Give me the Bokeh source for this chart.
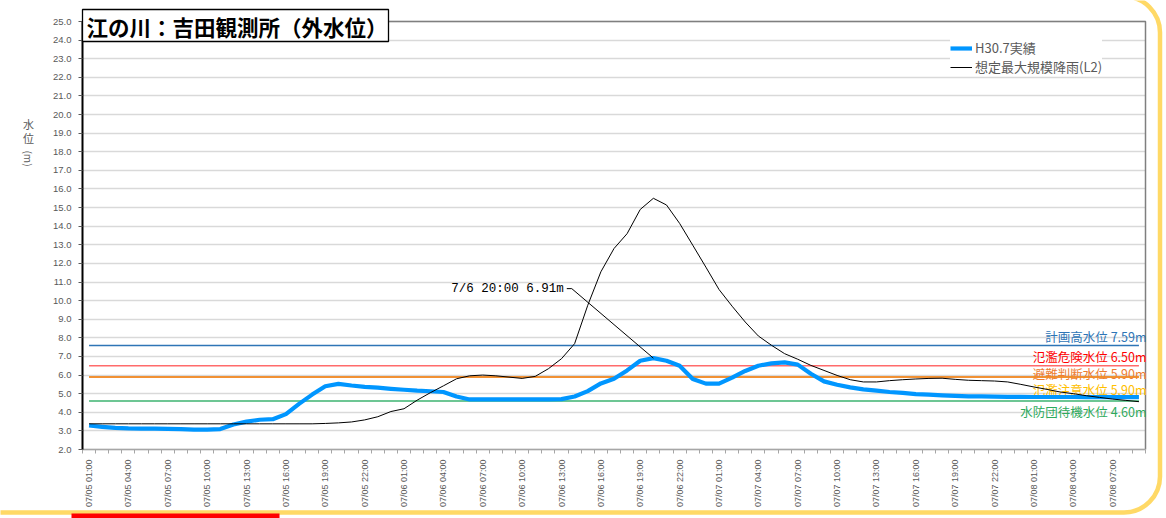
import math
import numpy as np
import pandas as pd
from bokeh.plotting import figure
from bokeh.models import (Range1d, FixedTicker, PrintfTickFormatter, Label, Legend,
                          LegendItem, BoxAnnotation, ColumnDataSource, Grid)
from bokeh.core.properties import value
from bokeh.embed import file_html
from bokeh.resources import INLINE

# ---------------- data ----------------
times = pd.date_range("2018-07-05 01:00", periods=81, freq="h")
time_labels = [t.strftime("%m/%d %H:%M") for t in times]
hours = list(range(len(times)))

h30_actual = [
    3.29, 3.22, 3.16, 3.13, 3.12, 3.12, 3.11, 3.09, 3.07, 3.07,
    3.10, 3.34, 3.50, 3.60, 3.63, 3.90, 4.45, 4.95, 5.40, 5.53,
    5.44, 5.37, 5.32, 5.26, 5.21, 5.16, 5.13, 5.09, 4.85, 4.69,
    4.69, 4.69, 4.69, 4.69, 4.69, 4.69, 4.71, 4.85, 5.14, 5.55,
    5.80, 6.25, 6.77, 6.91, 6.77, 6.50, 5.79, 5.54, 5.54, 5.86,
    6.22, 6.50, 6.63, 6.68, 6.56, 6.07, 5.66, 5.48, 5.34, 5.23,
    5.16, 5.09, 5.04, 4.98, 4.95, 4.91, 4.88, 4.86, 4.85, 4.84,
    4.83, 4.83, 4.82, 4.82, 4.82, 4.82, 4.81, 4.81, 4.81, 4.81,
    4.81,
]

l2_max = [
    3.38, 3.38, 3.38, 3.38, 3.38, 3.38, 3.38, 3.38, 3.38, 3.38,
    3.38, 3.38, 3.38, 3.38, 3.38, 3.38, 3.38, 3.38, 3.40, 3.43,
    3.48, 3.59, 3.76, 4.04, 4.19, 4.65, 5.05, 5.42, 5.80, 5.96,
    6.00, 5.96, 5.89, 5.82, 5.93, 6.34, 6.88, 7.69, 9.75, 11.55,
    12.80, 13.60, 14.90, 15.50, 15.14, 14.15, 12.98, 11.80, 10.60, 9.70,
    8.85, 8.10, 7.60, 7.15, 6.85, 6.52, 6.25, 5.98, 5.75, 5.63,
    5.63, 5.70, 5.75, 5.79, 5.82, 5.83, 5.77, 5.72, 5.70, 5.68,
    5.63, 5.50, 5.36, 5.23, 5.09, 5.00, 4.89, 4.80, 4.71, 4.64,
    4.57,
]

level_names = ["計画高水位", "氾濫危険水位", "避難判断水位", "氾濫注意水位", "水防団待機水位"]
level_values = [7.59, 6.50, 5.90, 5.90, 4.60]

y_ticks = list(range(2, 26))
x_tick_step = 3

# ---------------- styles / layout ----------------
level_line_colors = ["#2E75B6", "#FF6B6B", "#ED7D31", "#FFC000", "#3CB371"]
level_text_colors = ["#2E75B6", "#FF0000", "#ED7D31", "#FFC000", "#2EAA5C"]
level_text_dy = [-9, -9, -3, 13, 10]          # px, positive = down
draw_order = [0, 1, 3, 2, 4]                  # yellow under orange

JP = "Noto Sans CJK JP"
GRAY = "#595959"

W, H = 1166, 518
PL, PR, PT, PB = 82, 1145, 21, 449          # plot-area box in canvas pixels

x0, x1 = hours[0] - 0.5, hours[-1] + 0.5
y0, y1 = y_ticks[0], y_ticks[-1]
px_h = (PR - PL) / (x1 - x0)
px_m = (PB - PT) / (y1 - y0)


def X(px):  # canvas px -> data x
    return x0 + (px - PL) / px_h


def Y(py):  # canvas px -> data y
    return y0 + (PB - py) / px_m


p = figure(width=W, height=H, x_range=Range1d(X(0), X(W)), y_range=Range1d(Y(H), Y(0)),
           output_backend="svg", toolbar_location=None,
           min_border_left=0, min_border_right=0, min_border_top=0, min_border_bottom=0)
p.title.visible = False
p.background_fill_color = "white"
p.border_fill_color = "white"
p.outline_line_color = None

# grid (horizontal lines only across the plot area)
p.xgrid.visible = False
p.ygrid.visible = False
if "cross_bounds" in Grid.properties():
    g = Grid(dimension=1, ticker=FixedTicker(ticks=y_ticks), bounds=(y0, y1), cross_bounds=(x0, x1),
             grid_line_color="#D9D9D9", grid_line_width=1.5)
    p.add_layout(g)
else:
    p.segment(x0=[x0] * len(y_ticks), x1=[x1] * len(y_ticks), y0=y_ticks, y1=y_ticks,
              line_color="#D9D9D9", line_width=1.5, level="underlay")

# plot-area border (top/right)
p.line([x0, x1, x1], [y1, y1, y0], line_color="#7F7F7F", line_width=1.5)

# y axis
ya = p.yaxis[0]
ya.fixed_location = x0
ya.bounds = (y0, y1)
ya.ticker = FixedTicker(ticks=y_ticks)
ya.formatter = PrintfTickFormatter(format="%.1f")
ya.axis_line_color = "black"
ya.axis_line_width = 2
ya.major_tick_out = 4
ya.major_tick_in = 0
ya.major_tick_line_color = GRAY
ya.minor_tick_line_color = None
ya.major_label_standoff = 7
ya.major_label_text_font = "Liberation Sans"
ya.major_label_text_font_size = "9.5px"
ya.major_label_text_color = GRAY

# x axis
xa = p.xaxis[0]
xa.fixed_location = y0
xa.bounds = (x0, x1)
major = hours[::x_tick_step]
xa.ticker = FixedTicker(ticks=major, minor_ticks=[h - 0.5 for h in hours] + [hours[-1] + 0.5])
xa.major_label_overrides = {h: time_labels[h] for h in major}
xa.major_label_orientation = math.pi / 2
xa.major_tick_out = 0
xa.major_tick_in = 0
xa.minor_tick_out = 4
xa.minor_tick_in = 0
xa.minor_tick_line_color = "#A6A6A6"
xa.axis_line_color = "#A6A6A6"
xa.axis_line_width = 1.5
xa.major_label_standoff = 6
xa.major_label_text_font = "Liberation Sans"
xa.major_label_text_font_size = "9px"
xa.major_label_text_color = GRAY

# threshold labels (drawn under lines)
lab_src = ColumnDataSource(dict(
    x=[x1] * len(level_values), y=level_values,
    text=[f"{n} {v:.2f}m" for n, v in zip(level_names, level_values)],
    color=level_text_colors, dy=level_text_dy))
p.text(x="x", y="y", text="text", source=lab_src, text_align="right", text_baseline="middle",
       x_offset=1, y_offset="dy", text_color="color", text_font=value(JP), text_font_size="12.5px")

# threshold lines
for k in draw_order:
    p.line([hours[0], hours[-1]], [level_values[k]] * 2, line_color=level_line_colors[k], line_width=1.5)

# series
r_blue = p.line(hours, h30_actual, line_color="#0096FF", line_width=4.2, line_join="round")
r_black = p.line(hours, l2_max, line_color="black", line_width=1)

# peak annotation
pk = int(np.argmax(h30_actual))
pv = h30_actual[pk]
ex, ey = pk - 81.6 / px_h, pv + 69.5 / px_m
p.line([ex - 5 / px_h, ex, pk], [ey, ey, pv], line_color="black", line_width=1)
p.text(x=[ex - 5 / px_h], y=[ey], text=[f"{times[pk].month}/{times[pk].day} {times[pk]:%H:%M} {pv:.2f}m"],
       text_align="right", text_baseline="middle", x_offset=-3,
       text_font=value("Liberation Mono"), text_font_size="12.5px", text_color="black")

# legend
legend = Legend(items=[LegendItem(label="H30.7実績", renderers=[r_blue]),
                       LegendItem(label="想定最大規模降雨(L2)", renderers=[r_black])],
                location=(950, H - 76), orientation="vertical",
                glyph_width=22, glyph_height=18, label_height=18, label_standoff=3,
                spacing=0, padding=4, margin=0,
                label_text_font=JP, label_text_font_size="13px", label_text_color=GRAY,
                background_fill_color="white", background_fill_alpha=1.0,
                border_line_color=None)
p.add_layout(legend)

# title box
p.add_layout(BoxAnnotation(left=X(82), right=X(388), top=Y(9), bottom=Y(41),
                           fill_color="white", fill_alpha=1, line_color="black",
                           line_alpha=1, line_width=1.3))
p.add_layout(Label(x=X(86), y=Y(26), text="江の川：吉田観測所（外水位）",
                   text_align="left", text_baseline="middle", text_font=JP,
                   text_font_size="21.5px", text_font_style="bold", text_color="black"))

# y axis title (stacked characters)
for ch, py in [("水", 123), ("位", 137)]:
    p.add_layout(Label(x=X(28), y=Y(py), text=ch, text_align="center", text_baseline="middle",
                       text_font=JP, text_font_size="11px", text_color=GRAY))
p.add_layout(Label(x=X(28), y=Y(158), text="(m)", angle=-math.pi / 2,
                   text_align="center", text_baseline="middle",
                   text_font=JP, text_font_size="10px", text_color=GRAY))

# decorative frame
p.add_layout(BoxAnnotation(left=X(-60), right=X(1159.5), top=Y(-4), bottom=Y(512),
                           fill_alpha=0, line_color="#FFD966", line_alpha=1,
                           line_width=4.5, border_radius=36))
p.add_layout(BoxAnnotation(left=X(71), right=X(279), top=Y(513), bottom=Y(522),
                           fill_color="#FF0000", fill_alpha=1, line_color=None))

open("out.html", "w").write(file_html(p, INLINE))
